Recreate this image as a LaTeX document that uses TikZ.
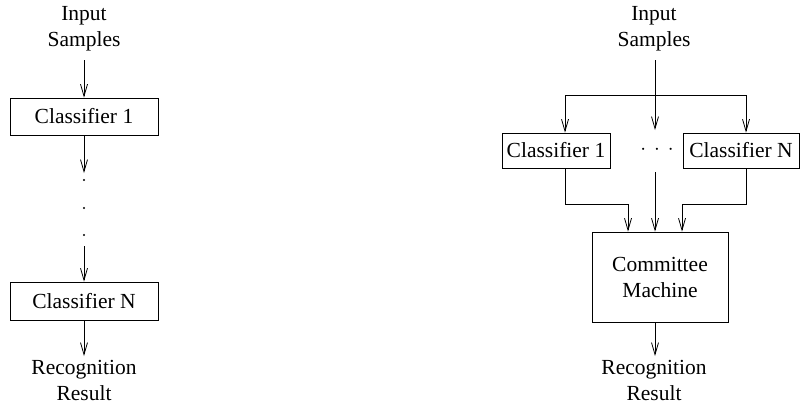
\documentclass[tikz,border=0pt]{standalone}
\usepackage{fontspec}
\setmainfont{Liberation Serif}
\usetikzlibrary{arrows.meta}
\begin{document}
\begin{tikzpicture}[x=1pt,y=-1pt,
  font=\fontsize{21.5}{26}\selectfont,
  line width=0.8pt,
  arr/.style={-{Straight Barb[length=12pt,width=7pt,line width=0.8pt]}},
  box/.style={draw,inner sep=0pt,align=center},
  lbl/.style={inner sep=0pt,align=center},
  dotc/.style={circle,fill,inner sep=0pt,minimum size=2.4pt}]
\useasboundingbox (0,0) rectangle (802,405);
% ---------- left: cascade ----------
\node[lbl] (in1) at (84,29) {Input\\Samples};
\node[box,minimum width=148pt,minimum height=37pt] (c1) at (84,116.5) {Classifier 1};
\node[dotc] (d1) at (84,180) {};
\node[dotc] (d2) at (84,208) {};
\node[dotc] (d3) at (84,235) {};
\node[box,minimum width=148pt,minimum height=38pt] (cN) at (84,301) {Classifier N};
\node[lbl] (out1) at (84,380) {Recognition\\Result};
\coordinate (a1) at (84,60);
\coordinate (a2) at (84,173);
\coordinate (a3) at (84,246);
\coordinate (a4) at (84,356);
\draw[arr] (a1) -- (c1.north);
\draw[arr] (c1.south) -- (a2);
\draw[arr] (a3) -- (cN.north);
\draw[arr] (cN.south) -- (a4);
% ---------- right: committee ----------
\node[lbl] (in2) at (654,29) {Input\\Samples};
\node[box,minimum width=108pt,minimum height=35pt] (r1) at (556,150.5) {Classifier 1};
\node[box,minimum width=116pt,minimum height=35pt] (rN) at (741,150.5) {Classifier N};
\node[lbl] (dots) at (657,150) {$\cdot\,\cdot\,\cdot$};
\node[box,minimum width=136pt,minimum height=90pt] (cm) at (660,277) {Committee\\Machine};
\node[lbl] (out2) at (654,380) {Recognition\\Result};
\coordinate (s0) at (655,60);
\coordinate (sp) at (655,95);
\coordinate (sl) at (565,95);
\coordinate (sr) at (746,95);
\coordinate (sm) at (655,130);
\coordinate (m0) at (655,172);
\coordinate (jl) at (565,204);
\coordinate (jl2) at (628,204);
\coordinate (jr) at (746,204);
\coordinate (jr2) at (682,204);
\coordinate (o0) at (655,356);
\draw (s0) -- (sp);
\draw (sl) -- (sr);
\draw[arr] (sp) -- (sm);
\draw[arr] (sl) -- (sl |- r1.north);
\draw[arr] (sr) -- (sr |- rN.north);
\draw[arr] (jl |- r1.south) -- (jl) -- (jl2) -- (jl2 |- cm.north);
\draw[arr] (m0) -- (m0 |- cm.north);
\draw[arr] (jr |- rN.south) -- (jr) -- (jr2) -- (jr2 |- cm.north);
\draw[arr] (o0 |- cm.south) -- (o0);
\end{tikzpicture}
\end{document}
